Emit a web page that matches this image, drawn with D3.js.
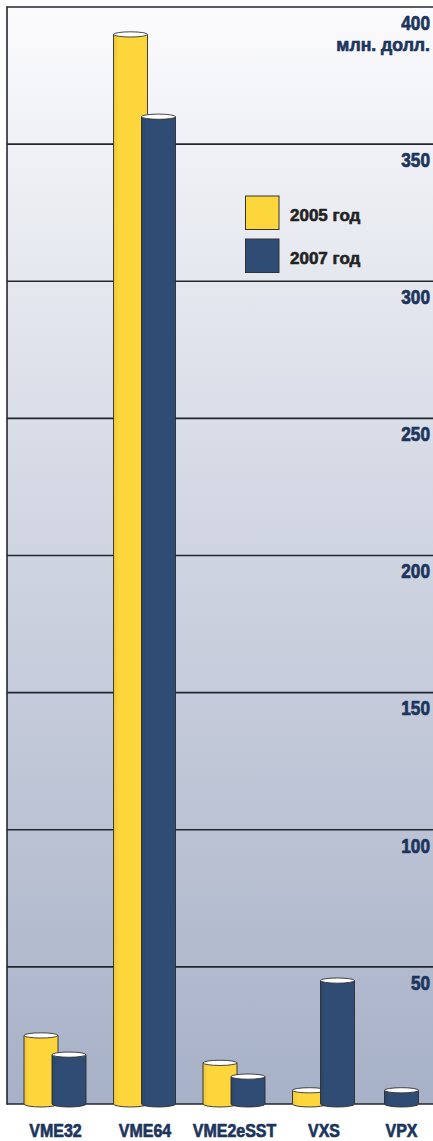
<!DOCTYPE html>
<html>
<head>
<meta charset="utf-8">
<script src="https://cdn.jsdelivr.net/npm/d3@7"></script>
<style>
  html, body { margin: 0; padding: 0; background: #ffffff; }
  svg { display: block; }
  text { font-family: "Liberation Sans", Arial, "Helvetica", sans-serif; font-weight: bold; paint-order: stroke; stroke-linejoin: round; }
</style>
</head>
<body>
<svg id="chart" width="433" height="1141"></svg>
<script>
// ---- data ----
const categories = ["VME32", "VME64", "VME2eSST", "VXS", "VPX"];
const seriesNames = ["2005 год", "2007 год"];
const values2005 = [25, 390, 15, 5, null];
const values2007 = [18, 360, 10, 45, 5];
const yTicks = [50, 100, 150, 200, 250, 300, 350, 400];
const unitLabel = "млн. долл.";

// ---- layout ----
const W = 433, H = 1141;
const plotLeft = 7, plotTop = 7, plotBottom = 1104, plotRight = W;
const colors = ["#fdd63c", "#2f4c74"];
const barW = 34, barShift = 14;
const rx = barW / 2, ryTop = 2.6, ryBot = 3;
const condense = 0.86;
const labelColor = "#1c355d";

const svg = d3.select("#chart");

const y = d3.scaleLinear().domain([0, 400]).range([plotBottom, plotTop]);
const x = d3.scalePoint().domain(categories).range([55.5, 55.5 + 4 * 89.5]);

// gradients
const defs = svg.append("defs");
const bg = defs.append("linearGradient").attr("id", "bg")
  .attr("x1", 0).attr("y1", 0).attr("x2", 0).attr("y2", 1);
bg.append("stop").attr("offset", "0%").attr("stop-color", "#fbfbfd");
bg.append("stop").attr("offset", "50%").attr("stop-color", "#cfd4e1");
bg.append("stop").attr("offset", "100%").attr("stop-color", "#a7b1c7");

const yel = defs.append("linearGradient").attr("id", "g0")
  .attr("x1", 0).attr("y1", 0).attr("x2", 1).attr("y2", 0);
yel.append("stop").attr("offset", "0%").attr("stop-color", "#e9c63a");
yel.append("stop").attr("offset", "15%").attr("stop-color", "#fdd63c");
yel.append("stop").attr("offset", "100%").attr("stop-color", "#fdd63c");
const nav = defs.append("linearGradient").attr("id", "g1")
  .attr("x1", 0).attr("y1", 0).attr("x2", 1).attr("y2", 0);
nav.append("stop").attr("offset", "0%").attr("stop-color", "#2a4569");
nav.append("stop").attr("offset", "15%").attr("stop-color", "#2f4c74");
nav.append("stop").attr("offset", "100%").attr("stop-color", "#2f4c74");

svg.append("rect")
  .attr("x", plotLeft).attr("y", plotTop)
  .attr("width", plotRight - plotLeft).attr("height", plotBottom - plotTop)
  .attr("fill", "url(#bg)");

// grid lines
svg.append("g").selectAll("line").data([0].concat(yTicks)).join("line")
  .attr("x1", plotLeft).attr("x2", plotRight)
  .attr("y1", d => y(d)).attr("y2", d => y(d))
  .attr("stroke", "#23282f").attr("stroke-width", 1.6);
svg.append("line")
  .attr("x1", plotLeft).attr("x2", plotLeft)
  .attr("y1", y(400) - 0.8).attr("y2", y(0) + 0.8)
  .attr("stroke", "#23282f").attr("stroke-width", 1.6);

// tick labels
svg.append("g").selectAll("text").data(yTicks).join("text")
  .attr("transform", d => `translate(430, ${y(d) + 22.8}) scale(${condense},1)`)
  .attr("text-anchor", "end")
  .attr("font-size", 20)
  .attr("fill", labelColor)
  .attr("stroke", labelColor).attr("stroke-width", 0.7)
  .text(d => d);
svg.append("text")
  .attr("transform", `translate(430, ${y(400) + 43.5}) scale(0.93,1)`)
  .attr("text-anchor", "end")
  .attr("font-size", 19)
  .attr("fill", labelColor)
  .attr("stroke", labelColor).attr("stroke-width", 0.7)
  .text(unitLabel);

// bars
const isSingle = i => values2005[i] == null || values2007[i] == null;
const groupCenter = (cat, i) => isSingle(i) ? Math.min(x(cat), plotRight - 31.5) : x(cat);
const bars = [];
categories.forEach((cat, i) => {
  const c = groupCenter(cat, i);
  [values2005[i], values2007[i]].forEach((v, s) => {
    if (v == null) return;
    const cx = isSingle(i) ? c : c + (s === 0 ? -barShift - 0.5 : barShift - 0.5);
    bars.push({ cat, s, v, cx });
  });
});

const cyl = svg.append("g").selectAll("g").data(bars).join("g");
cyl.append("path")
  .attr("d", d => {
    const l = d.cx - rx, r = d.cx + rx, t = y(d.v), b = y(0);
    return `M${l},${t} L${l},${b} A${rx},${ryBot} 0 0 0 ${r},${b} L${r},${t} Z`;
  })
  .attr("fill", d => `url(#g${d.s})`)
  .attr("stroke", "#2b2b2b").attr("stroke-width", 0.9);
cyl.append("ellipse")
  .attr("cx", d => d.cx).attr("cy", d => y(d.v))
  .attr("rx", rx).attr("ry", ryTop)
  .attr("fill", "#ffffff")
  .attr("stroke", "#333333").attr("stroke-width", 0.9);

// category labels
svg.append("g").selectAll("text").data(categories).join("text")
  .attr("transform", (d, i) => `translate(${groupCenter(d, i)}, 1137) scale(${condense},1)`)
  .attr("text-anchor", "middle")
  .attr("font-size", 18.6)
  .attr("fill", labelColor)
  .attr("stroke", labelColor).attr("stroke-width", 0.7)
  .text(d => d);

// legend
const leg = svg.append("g").selectAll("g").data(seriesNames).join("g")
  .attr("transform", (d, i) => `translate(245.5, ${196 + i * 43})`);
leg.append("rect")
  .attr("width", 33.5).attr("height", 33.5)
  .attr("fill", (d, i) => colors[i])
  .attr("stroke", "#333").attr("stroke-width", 1);
leg.append("text")
  .attr("transform", "translate(44.5, 25) scale(1,1)")
  .attr("font-size", 17)
  .attr("fill", "#222222")
  .attr("stroke", "#222222").attr("stroke-width", 0.6)
  .text(d => d);
</script>
</body>
</html>
